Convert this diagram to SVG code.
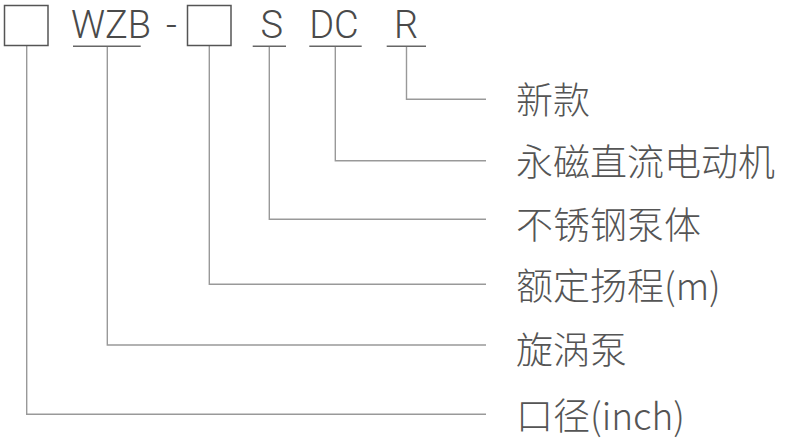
<svg xmlns="http://www.w3.org/2000/svg" width="800" height="441" viewBox="0 0 800 441">
<style>
.bx{fill:#fff;stroke:#555;stroke-width:1.5}
.code{font-family:Roboto,"Liberation Sans",sans-serif;font-weight:300;font-size:38px;fill:#4a4a4a;text-anchor:middle}
.lbl{font-family:"Noto Sans CJK SC","Liberation Sans",sans-serif;font-weight:300;font-size:37px;fill:#555}
.ul{stroke:#666;stroke-width:1.5;fill:none}
.con{stroke:#999;stroke-width:1.4;fill:none}
</style>
<rect width="800" height="441" fill="#fff"/>
<g id="connectors">
<polyline class="con" points="26.7,46 26.7,414.3 486,414.3"/>
<polyline class="con" points="107.3,46.3 107.3,345 486,345"/>
<polyline class="con" points="209.3,46 209.3,284.3 486,284.3"/>
<polyline class="con" points="269.3,46.3 269.3,219.3 486,219.3"/>
<polyline class="con" points="335.3,46.3 335.3,160.7 486,160.7"/>
<polyline class="con" points="406.5,46.3 406.5,99.3 486,99.3"/>
</g>
<g id="code-box1"><rect class="bx" x="4.5" y="5.5" width="43.5" height="40"/></g>
<g id="code-wzb"><text class="code" x="111" y="37.5">WZB</text><line class="ul" x1="73" y1="46.3" x2="140.7" y2="46.3"/></g>
<g id="code-dash"><text class="code" x="171.4" y="37.5">-</text></g>
<g id="code-box2"><rect class="bx" x="187.5" y="5.5" width="43.5" height="40"/></g>
<g id="code-s"><text class="code" x="271.7" y="37.5">S</text><line class="ul" x1="252.7" y1="46.3" x2="286" y2="46.3"/></g>
<g id="code-dc"><text class="code" x="334" y="37.5">DC</text><line class="ul" x1="309.3" y1="46.3" x2="361.7" y2="46.3"/></g>
<g id="code-r"><text class="code" x="406" y="37.5">R</text><line class="ul" x1="386.7" y1="46.3" x2="426" y2="46.3"/></g>
<g id="label-r"><text class="lbl" x="516" y="114">新款</text></g>
<g id="label-dc"><text class="lbl" x="516" y="175.5">永磁直流电动机</text></g>
<g id="label-s"><text class="lbl" x="516" y="239">不锈钢泵体</text></g>
<g id="label-head"><text class="lbl" x="516" y="300">额定扬程(m)</text></g>
<g id="label-wzb"><text class="lbl" x="516" y="363.5">旋涡泵</text></g>
<g id="label-size"><text class="lbl" x="516" y="430">口径(inch)</text></g>
</svg>
